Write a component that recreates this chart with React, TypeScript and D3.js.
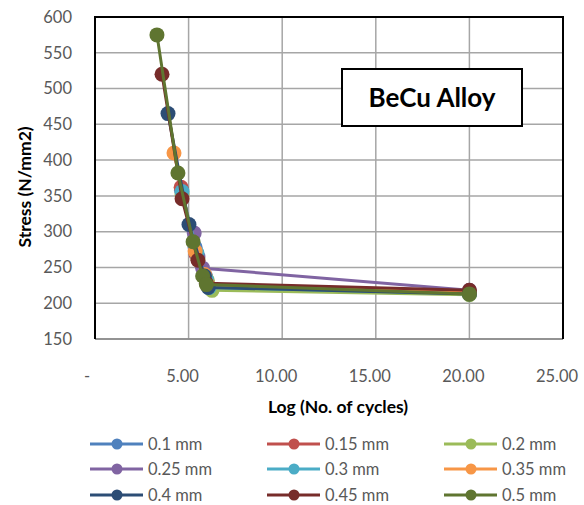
import React from "react";
import * as d3 from "d3";

const seriesNames = ["0.1 mm", "0.15 mm", "0.2 mm", "0.25 mm", "0.3 mm", "0.35 mm", "0.4 mm", "0.45 mm", "0.5 mm"];
const seriesColors = ["#4F81BD", "#C0504D", "#9BBB59", "#8064A2", "#4BACC6", "#F79646", "#2C4D75", "#772C2A", "#5F7530"];

const logCycles01 = [4.62, 5.35, 5.9, 6.1, 20.0];
const stress01 = [358, 278, 238, 222, 213];
const logCycles015 = [4.6, 5.4, 5.9, 6.05, 20.0];
const stress015 = [362, 268, 236, 225, 216];
const logCycles02 = [4.65, 5.5, 6.0, 6.25, 20.0];
const stress02 = [352, 262, 232, 218, 212];
const logCycles025 = [5.3, 5.5, 5.75, 20.0];
const stress025 = [298, 265, 249, 218];
const logCycles03 = [4.65, 5.45, 5.95, 6.1, 20.0];
const stress03 = [356, 270, 233, 222, 214];
const logCycles035 = [4.22, 5.35, 5.85, 6.0, 20.0];
const stress035 = [410, 273, 240, 226, 215];
const logCycles04 = [3.9, 5.02, 5.85, 6.05, 20.0];
const stress04 = [465, 310, 238, 222, 213];
const logCycles045 = [3.58, 4.65, 5.5, 5.95, 20.0];
const stress045 = [520, 346, 260, 228, 218];
const logCycles05 = [3.31, 4.43, 5.24, 5.75, 5.95, 20.0];
const stress05 = [575, 382, 286, 238, 226, 213];

const xSeries = [logCycles01, logCycles015, logCycles02, logCycles025, logCycles03, logCycles035, logCycles04, logCycles045, logCycles05];
const ySeries = [stress01, stress015, stress02, stress025, stress03, stress035, stress04, stress045, stress05];

const xTicks = [0, 5, 10, 15, 20, 25];
const xTickLabels = ["-", "5.00", "10.00", "15.00", "20.00", "25.00"];
const yTicks = [150, 200, 250, 300, 350, 400, 450, 500, 550, 600];

const FONT = "Lato, 'Open Sans', 'Liberation Sans', sans-serif";

export default function App() {
  const W = 584, H = 505;
  const left = 95, right = 563, top = 17, bottom = 339;
  const x = d3.scaleLinear().domain([0, 25]).range([left, right]);
  const y = d3.scaleLinear().domain([150, 600]).range([bottom, top]);
  const line = d3.line<[number, number]>().x(d => x(d[0])).y(d => y(d[1]));

  const legendCols = [90, 267, 444];
  const legendRows = [444, 469, 495];

  return (
    <svg width={W} height={H} style={{ position: "absolute", left: 0, top: 0, background: "#fff" }} fontFamily={FONT}>
      <rect x={0} y={0} width={W} height={H} fill="#fff" />
      {yTicks.map(t => (
        <line key={"gy" + t} x1={left} x2={right} y1={y(t)} y2={y(t)} stroke="#A6A6A6" strokeWidth={1.5} />
      ))}
      {xTicks.map(t => (
        <line key={"gx" + t} x1={x(t)} x2={x(t)} y1={top} y2={bottom} stroke="#A6A6A6" strokeWidth={1.5} />
      ))}
      <line x1={left} x2={right} y1={bottom} y2={bottom} stroke="#868686" strokeWidth={1.5} />
      <path d={`M${left},${bottom}V${top}H${right}V${bottom}`} fill="none" stroke="#000" strokeWidth={2} />

      {yTicks.map(t => (
        <text key={"ty" + t} x={72} y={y(t)} dy="0.35em" textAnchor="end" fontSize={16.5} fill="#595959">{t}</text>
      ))}
      {xTicks.map((t, i) => (
        <text key={"tx" + t} x={i === 0 ? x(t) - 8 : x(t) - 6} y={376} dy="0.35em" textAnchor="middle" fontSize={16.5} fill="#595959">{xTickLabels[i]}</text>
      ))}
      <text x={338} y={407} dy="0.35em" textAnchor="middle" fontSize={17.5} fontWeight="bold" fill="#000">Log (No. of cycles)</text>
      <text transform={`translate(25,187) rotate(-90)`} dy="0.35em" textAnchor="middle" fontSize={17.5} fontWeight="bold" fill="#000">Stress (N/mm2)</text>

      {xSeries.map((xs, i) => {
        const pts: [number, number][] = xs.map((v, j) => [v, ySeries[i][j]]);
        return (
          <g key={"s" + i}>
            <path d={line(pts) || ""} fill="none" stroke={seriesColors[i]} strokeWidth={3} strokeLinejoin="round" />
            {pts.map((p, j) => (
              <circle key={j} cx={x(p[0])} cy={y(p[1])} r={7.5} fill={seriesColors[i]} />
            ))}
          </g>
        );
      })}

      <rect x={342} y={69} width={180} height={57} fill="#fff" stroke="#000" strokeWidth={2} />
      <text x={432} y={98} dy="0.35em" textAnchor="middle" fontSize={26} fontWeight="bold" fill="#000">BeCu Alloy</text>

      {seriesNames.map((n, i) => {
        const cx = legendCols[i % 3];
        const cy = legendRows[Math.floor(i / 3)];
        return (
          <g key={"l" + i}>
            <line x1={cx} x2={cx + 53} y1={cy} y2={cy} stroke={seriesColors[i]} strokeWidth={3} />
            <circle cx={cx + 27} cy={cy} r={5.5} fill={seriesColors[i]} />
            <text x={cx + 58} y={cy} dy="0.35em" fontSize={16.5} fill="#595959">{n}</text>
          </g>
        );
      })}
    </svg>
  );
}
